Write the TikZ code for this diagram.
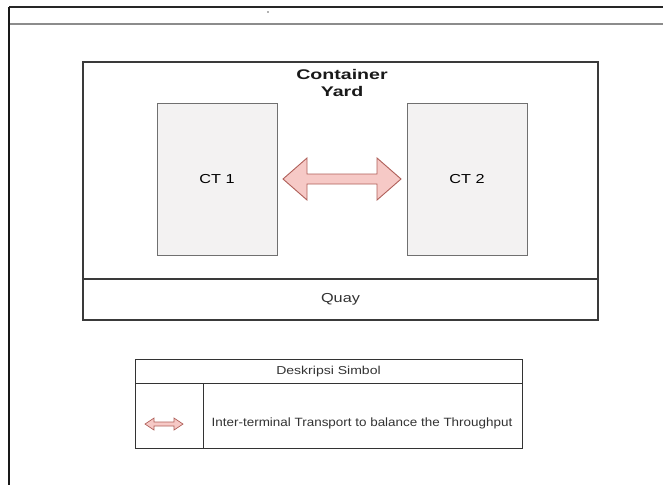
\documentclass[tikz,border=0pt]{standalone}
\usepackage{fontspec}
\setmainfont{Liberation Sans}
\usetikzlibrary{calc}
\definecolor{ctfill}{HTML}{F3F2F2}
\definecolor{ctline}{HTML}{707070}
\definecolor{arrfill}{HTML}{F6C9C6}
\definecolor{arrline}{HTML}{B0605A}
\definecolor{frame}{HTML}{3A3A3A}
\tikzset{
  region/.style={draw=frame, line width=1.1pt, inner sep=0pt, outer sep=0pt, anchor=north west},
  ctbox/.style={draw=ctline, fill=ctfill, line width=0.8pt, inner sep=0pt, outer sep=0pt,
    minimum width=120pt, minimum height=152pt},
  arr/.style={draw=arrline, fill=arrfill, line width=0.9pt, line join=miter},
  lbl/.style={inner sep=0pt, text=black!80},
}
\newcommand{\wide}[2]{\scalebox{#1}[1]{#2}}
\begin{document}
\begin{tikzpicture}[x=1pt,y=-1pt]
\useasboundingbox (0,0) rectangle (663,485);
\fill[white] (0,0) rectangle (663,485);
% page frame
\coordinate (ftl) at (9,7);
\coordinate (ftr) at (663,7);
\coordinate (fml) at (9,24);
\coordinate (fmr) at (663,24);
\coordinate (fbl) at (9,485);
\draw[black!85, line width=1.2pt] (ftl) -- (ftr);
\draw[black!45, line width=1.4pt] (fml) -- (fmr);
\draw[black!90, line width=1.5pt] (ftl) -- (fbl);
\fill[black!60] (268,12) circle (0.8);
% yard and quay
\node[region, minimum width=515pt, minimum height=217pt] (yard) at (83,62) {};
\node[region, minimum width=515pt, minimum height=41pt] (quay) at (83,279) {};
\node[lbl, anchor=base, text=black!90] (yl1) at (342,79.5) {\fontsize{14}{17}\selectfont\bfseries\wide{1.4}{Container}};
\node[lbl, anchor=base, text=black!90] (yl2) at (342,96) {\fontsize{14}{17}\selectfont\bfseries\wide{1.4}{Yard}};
\node[lbl] (quaylbl) at (quay.center) {\fontsize{13}{15}\selectfont\wide{1.25}{Quay}};
% terminals
\node[ctbox] (ct1) at (217,179) {\fontsize{13}{15}\selectfont\wide{1.25}{CT 1}};
\node[ctbox] (ct2) at (467,179) {\fontsize{13}{15}\selectfont\wide{1.25}{CT 2}};
% inter-terminal double arrow
\draw[arr] ($(ct1.east)+(6,0)$) coordinate (al) -- ++(24,-21) -- ++(0,16) -- ++(70,0) -- ++(0,-16)
  -- ($(ct2.west)+(-6,0)$) coordinate (ar) -- ++(-24,21) -- ++(0,-16) -- ++(-70,0) -- ++(0,16) -- cycle;
% legend
\node[region, draw=black!80, line width=0.9pt, minimum width=387pt, minimum height=89pt] (leg) at (135,359) {};
\coordinate (lh1) at (135,383);
\coordinate (lh2) at (522,383);
\coordinate (lv1) at (203,383);
\coordinate (lv2) at (203,448);
\draw[black!80, line width=0.9pt] (lh1) -- (lh2);
\draw[black!80, line width=0.9pt] (lv1) -- (lv2);
\node[lbl] (legtitle) at (328.5,372) {\fontsize{11.5}{13}\selectfont\wide{1.22}{Deskripsi Simbol}};
\node[lbl] (legtext) at (362,423) {\fontsize{12}{14}\selectfont\wide{1.12}{Inter-terminal Transport to balance the Throughput}};
\coordinate (sa) at (145,424);
\draw[arr, line width=0.7pt] (sa) -- ++(9,-6) -- ++(0,4) -- ++(20,0) -- ++(0,-4) -- ++(9,6)
  -- ++(-9,6) -- ++(0,-4) -- ++(-20,0) -- ++(0,4) -- cycle;
\end{tikzpicture}
\end{document}
